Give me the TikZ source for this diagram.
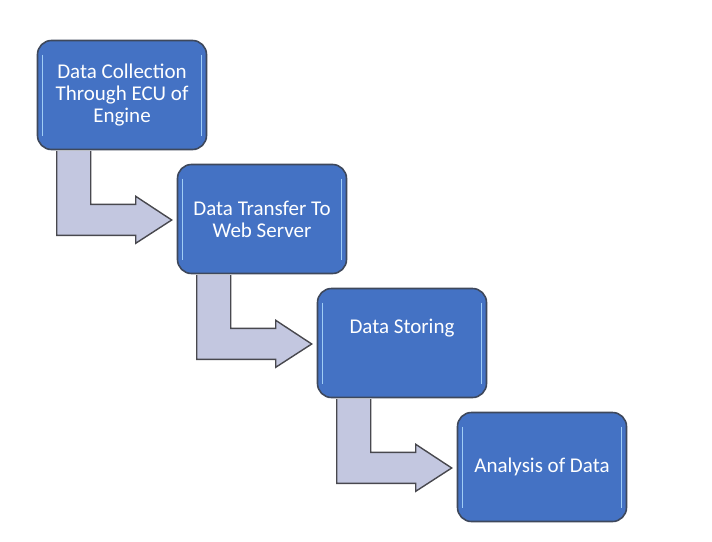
\documentclass[tikz,border=0pt]{standalone}
\usepackage{fontspec}
\setmainfont{Carlito}
\usepackage{tikz}
\usetikzlibrary{
    calc
}
\definecolor{boxblue}{RGB}{68,114,196}
\definecolor{boxedge}{RGB}{62,72,92}
\definecolor{boxshine}{RGB}{160,205,245}
\definecolor{arrowfill}{RGB}{195,199,224}
\definecolor{arrowedge}{RGB}{72,72,78}
\tikzstyle{stage} = [
    rectangle, draw=boxedge,
    line width=1.6pt,
    rounded corners=14pt,
    minimum width=169pt,
    minimum height=109pt,
    fill=boxblue,
    text=white,
    align=center,
    font=\fontsize{21}{22}\selectfont,
    path picture={
        \draw[boxshine, line width=1.5pt]
            ([xshift=5pt,yshift=-14pt]path picture bounding box.north west) --
            ([xshift=5pt,yshift=14pt]path picture bounding box.south west);
        \draw[boxshine, line width=1.5pt]
            ([xshift=-5pt,yshift=-14pt]path picture bounding box.north east) --
            ([xshift=-5pt,yshift=14pt]path picture bounding box.south east);
    }
]
\tikzstyle{bentarrow} = [
    fill=arrowfill,
    draw=arrowedge,
    line width=1.4pt,
    line join=miter
]
\newcommand{\stagearrow}[2]{%
    \draw[bentarrow] ($(#1.south west)+(20,0.8)$) -- ($(#1.south west)+(20,85)$)
        -- ($(#1.south west)+(99,85)$) -- ($(#1.south west)+(99,93)$)
        -- ($(#2.west)+(-5,1)$)
        -- ($(#1.south west)+(99,46)$) -- ($(#1.south west)+(99,54)$)
        -- ($(#1.south west)+(54,54)$) -- ($(#1.south west)+(54,0.8)$);
}
\begin{document}
\begin{tikzpicture}[x=1pt, y=-1pt]
    \useasboundingbox (0,0) rectangle (712,541);
    \node[stage] (collect) at (122,95)  {Data Collection\\Through ECU of\\Engine};
    \node[stage] (transfer) at (262,219) {Data Transfer To\\Web Server};
    \node[stage, text depth=33pt] (store) at (402,343) {Data Storing};
    \node[stage] (analyse) at (542,467) {Analysis of Data};
    \stagearrow{collect}{transfer}
    \stagearrow{transfer}{store}
    \stagearrow{store}{analyse}
\end{tikzpicture}
\end{document}
